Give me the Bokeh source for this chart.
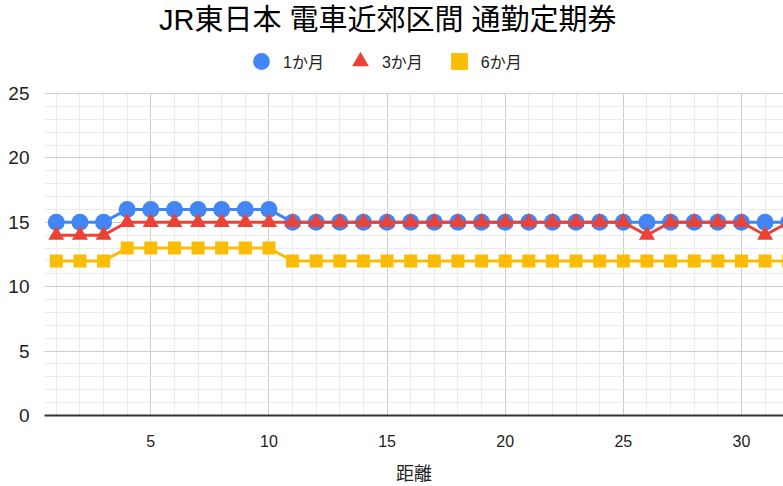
from bokeh.plotting import figure
from bokeh.models import (Range1d, SingleIntervalTicker, Legend, LegendItem,
                          Label, BoxAnnotation, ColumnDataSource)
from bokeh.embed import file_html
from bokeh.resources import INLINE

# ---- data ----
distance = list(range(1, 33))
one_month = [15, 15, 15, 16, 16, 16, 16, 16, 16, 16] + [15] * 22
three_month = [14, 14, 14] + [15] * 22 + [14] + [15] * 4 + [14, 15]
six_month = [12, 12, 12] + [13] * 7 + [12] * 22
series_names = ["1か月", "3か月", "6か月"]
title_text = "JR東日本 電車近郊区間 通勤定期券"
x_label = "距離"
y_max = 25

FONT = "Liberation Sans, Noto Sans CJK JP"
BLUE, RED, YELLOW = "#4285F4", "#EA4335", "#FBBC04"

src = ColumnDataSource(dict(x=distance, a=one_month, b=three_month, c=six_month))

# frame spans the whole top of the figure; header area lies above y = 25
p = figure(width=783, height=486, output_backend="svg", toolbar_location=None,
           x_range=Range1d(0.5, 31.78), y_range=Range1d(0, 32.22),
           min_border_left=44, min_border_right=0, min_border_top=0,
           min_border_bottom=71, title=None)
p.outline_line_color = None
p.background_fill_color = "white"

p.xaxis.ticker = SingleIntervalTicker(interval=5, num_minor_ticks=5)
p.yaxis.ticker = SingleIntervalTicker(interval=5, num_minor_ticks=5)
p.yaxis.bounds = (0, y_max)
for g in (p.xgrid, p.ygrid):
    g.grid_line_color = "#cccccc"
    g.grid_line_width = 1
    g.minor_grid_line_color = "#ebebeb"
    g.minor_grid_line_width = 1
p.ygrid.bounds = (0, y_max)

# hide the vertical grid above the top of the value axis
p.add_layout(BoxAnnotation(bottom=y_max + 0.04, fill_color="white", fill_alpha=1,
                           line_color=None, level="underlay"))

p.yaxis.axis_line_color = None
p.yaxis.major_tick_line_color = None
p.yaxis.minor_tick_line_color = None
p.yaxis.major_label_text_font = FONT
p.yaxis.major_label_text_font_size = "19px"
p.yaxis.major_label_text_color = "#222222"
p.yaxis.major_label_standoff = 9

p.xaxis.axis_line_color = "#333333"
p.xaxis.axis_line_width = 2
p.xaxis.major_tick_line_color = None
p.xaxis.minor_tick_line_color = None
p.xaxis.major_label_text_font = FONT
p.xaxis.major_label_text_font_size = "16px"
p.xaxis.major_label_text_color = "#222222"
p.xaxis.major_label_standoff = 13
p.xaxis.major_label_overrides = {0: ""}
p.xaxis.axis_label = x_label
p.xaxis.axis_label_text_font = FONT
p.xaxis.axis_label_text_font_size = "18px"
p.xaxis.axis_label_text_font_style = "normal"
p.xaxis.axis_label_text_color = "#222222"
p.xaxis.axis_label_standoff = 14

p.line("x", "a", source=src, line_color=BLUE, line_width=3)
r1 = p.scatter("x", "a", source=src, marker="circle", size=17,
               fill_color=BLUE, line_color=None)
p.line("x", "b", source=src, line_color=RED, line_width=3)
r2 = p.scatter("x", "b", source=src, marker="triangle", size=16,
               fill_color=RED, line_color=None)
p.line("x", "c", source=src, line_color=YELLOW, line_width=3)
r3 = p.scatter("x", "c", source=src, marker="square", size=13,
               fill_color=YELLOW, line_color=None)

legend = Legend(items=[LegendItem(label=series_names[0], renderers=[r1]),
                       LegendItem(label=series_names[1], renderers=[r2]),
                       LegendItem(label=series_names[2], renderers=[r3])],
                orientation="horizontal", location=(196, 333),
                glyph_width=42, glyph_height=42, label_standoff=1, spacing=15,
                padding=0, margin=0, border_line_color=None,
                background_fill_alpha=0, label_text_font=FONT,
                label_text_font_size="16px", label_text_color="#222222")
p.add_layout(legend)

title = Label(x=15.03, y=396, y_units="screen", text=title_text, text_font=FONT,
              text_font_size="29px", text_color="#000000", text_align="center",
              text_baseline="middle")
p.add_layout(title)

open("out.html", "w").write(file_html(p, INLINE))
